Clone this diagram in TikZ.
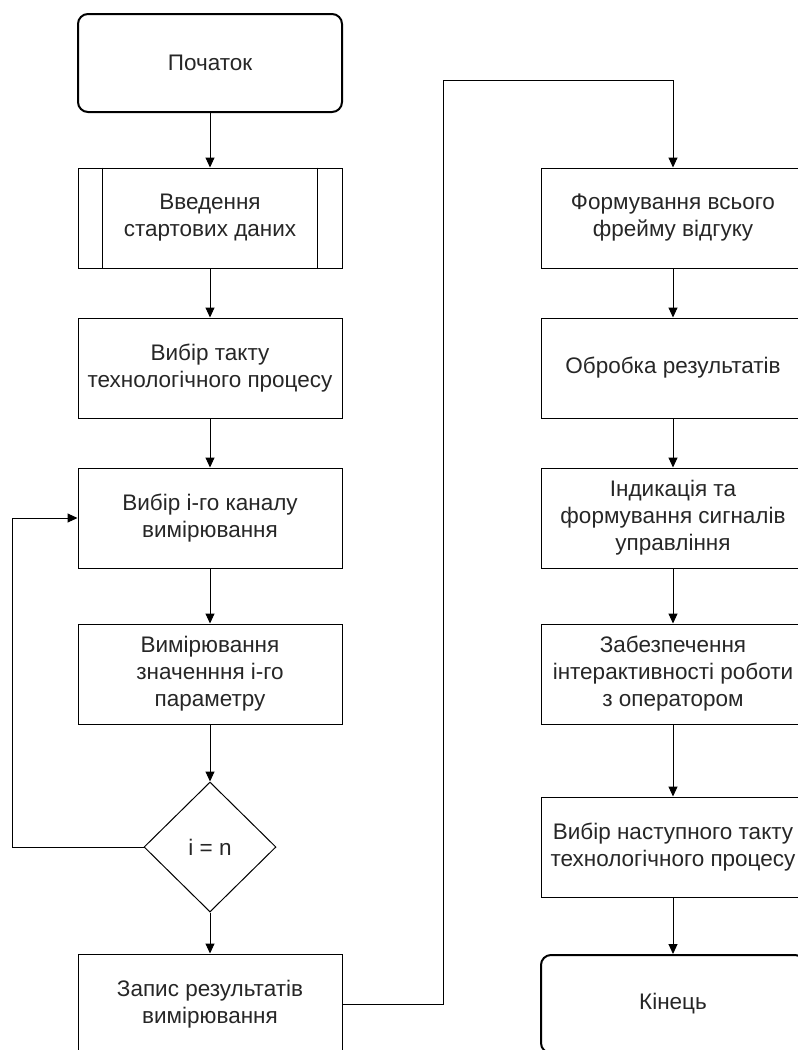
\documentclass[tikz,border=0pt]{standalone}
\usepackage{fontspec}
\setmainfont{Liberation Sans}
\usetikzlibrary{shapes.geometric,arrows.meta}
\begin{document}
\begin{tikzpicture}[x=1pt,y=-1pt,
  every node/.style={font=\fontsize{22.5}{27}\selectfont, text=black!85, align=center, inner sep=0pt},
  proc/.style={draw, line width=1pt, minimum width=264pt, minimum height=100pt},
  term/.style={draw, line width=2pt, rounded corners=10pt, minimum width=264pt, minimum height=98pt},
  dec/.style={draw, line width=1pt, diamond, minimum width=132pt, minimum height=130pt},
  arr/.style={line width=1pt, -{Triangle[length=10pt,width=9pt]}},
  ln/.style={line width=1pt}]
\useasboundingbox (0,0) rectangle (798,1050);
\clip (0,0) rectangle (798,1050);
% left column
\node[term] (start) at (210,63) {Початок};
\node[proc] (b2) at (210,218) {Введення\\стартових даних};
\draw[ln] ([xshift=25pt]b2.north west) -- ([xshift=25pt]b2.south west);
\draw[ln] ([xshift=-25pt]b2.north east) -- ([xshift=-25pt]b2.south east);
\node[proc] (b3) at (210,368) {Вибір такту\\технологічного процесу};
\node[proc] (b4) at (210,518) {Вибір і-го каналу\\вимірювання};
\node[proc] (b5) at (210,674) {Вимірювання\\значенння і-го\\параметру};
\node[dec] (d) at (210,847) {i = n};
\node[proc] (b7) at (210,1004) {Запис результатів\\вимірювання};
% right column
\node[proc] (r1) at (673,218) {Формування всього\\фрейму відгуку};
\node[proc] (r2) at (673,368) {Обробка результатів};
\node[proc] (r3) at (673,518) {Індикація та\\формування сигналів\\управління};
\node[proc] (r4) at (673,674) {Забезпечення\\інтерактивності роботи\\з оператором};
\node[proc] (r5) at (673,847) {Вибір наступного такту\\технологічного процесу};
\node[term] (end) at (673,1004) {Кінець};
% connectors left
\draw[arr] (start) -- (b2);
\draw[arr] (b2) -- (b3);
\draw[arr] (b3) -- (b4);
\draw[arr] (b4) -- (b5);
\draw[arr] (b5) -- (d);
\draw[arr] (d) -- (b7);
\coordinate (lp) at (12,847);
\draw[arr] (d.west) -- (lp) |- (b4.west);
\coordinate (up) at (443,80);
\draw[arr] (b7.east) -| (up) -| (r1.north);
% connectors right
\draw[arr] (r1) -- (r2);
\draw[arr] (r2) -- (r3);
\draw[arr] (r3) -- (r4);
\draw[arr] (r4) -- (r5);
\draw[arr] (r5) -- (end);
\end{tikzpicture}
\end{document}
